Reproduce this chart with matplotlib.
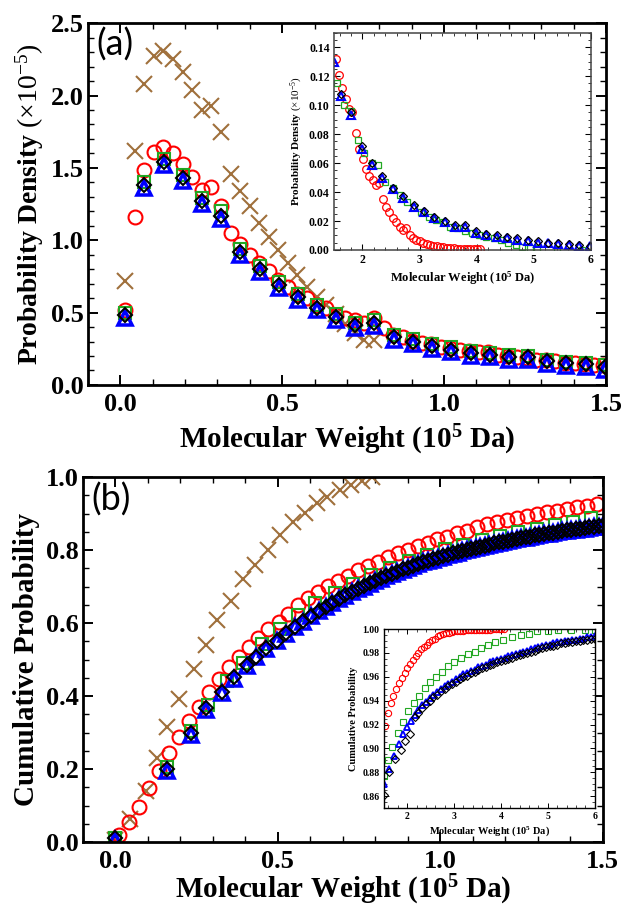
import matplotlib
matplotlib.use("Agg")
import matplotlib.pyplot as plt
from matplotlib.ticker import MultipleLocator, FormatStrFormatter

plt.rcParams["font.family"] = ["Liberation Serif", "DejaVu Serif"]
plt.rcParams["mathtext.fontset"] = "custom"
plt.rcParams["mathtext.rm"] = "Liberation Serif"
plt.rcParams["mathtext.bf"] = "Liberation Serif:bold"
plt.rcParams["mathtext.default"] = "rm"

# ---------------- panel (a): probability density ----------------
x_fine_a = [0.015, 0.045, 0.074, 0.104, 0.133, 0.163, 0.193, 0.222, 0.252, 0.281,
            0.311, 0.341, 0.370, 0.400, 0.429, 0.459, 0.488, 0.518, 0.547, 0.577,
            0.606, 0.636, 0.665, 0.695, 0.724, 0.754, 0.783, 0.813, 0.842, 0.872,
            0.901, 0.931, 0.960, 0.990, 1.019, 1.049, 1.078, 1.108, 1.137, 1.167,
            1.196, 1.226, 1.255, 1.285, 1.314, 1.344, 1.373, 1.403, 1.432, 1.462,
            1.491]
red_a = [0.52, 1.16, 1.485, 1.61, 1.645, 1.60, 1.53, 1.44, 1.35, 1.37,
         1.24, 1.047, 0.977, 0.90, 0.84, 0.79, 0.726, 0.68, 0.63, 0.60,
         0.55, 0.53, 0.48, 0.465, 0.446, 0.43, 0.46, 0.395, 0.344, 0.33,
         0.307, 0.29, 0.28, 0.26, 0.256, 0.24, 0.233, 0.226, 0.228, 0.21,
         0.198, 0.193, 0.186, 0.174, 0.174, 0.163, 0.15, 0.15, 0.144, 0.14,
         0.135]
x_brown_a = x_fine_a[:27]
brown_a = [0.72, 1.62, 2.08, 2.27, 2.31, 2.25, 2.16, 2.04, 1.90, 1.93,
           1.75, 1.46, 1.34, 1.24, 1.12, 1.02, 0.93, 0.84, 0.76, 0.68,
           0.61, 0.55, 0.49, 0.42, 0.36, 0.31, 0.31]

x_coarse_a = [0.015, 0.074, 0.134, 0.193, 0.252, 0.311, 0.371, 0.430, 0.489, 0.548,
              0.608, 0.667, 0.726, 0.785, 0.845, 0.904, 0.963, 1.022, 1.082, 1.141,
              1.200, 1.259, 1.319, 1.378, 1.437, 1.496]
green_a = [0.50, 1.40, 1.56, 1.45, 1.29, 1.20, 0.94, 0.82, 0.71, 0.63,
           0.55, 0.49, 0.43, 0.45, 0.345, 0.315, 0.285, 0.26, 0.235, 0.22,
           0.21, 0.20, 0.175, 0.16, 0.155, 0.135]
blue_a = [0.46, 1.36, 1.52, 1.41, 1.25, 1.15, 0.90, 0.78, 0.67, 0.59,
          0.515, 0.45, 0.395, 0.41, 0.31, 0.28, 0.25, 0.225, 0.20, 0.19,
          0.175, 0.17, 0.145, 0.13, 0.125, 0.105]
black_a = [0.48, 1.38, 1.54, 1.43, 1.27, 1.17, 0.92, 0.80, 0.69, 0.61,
           0.535, 0.47, 0.415, 0.43, 0.33, 0.30, 0.27, 0.245, 0.22, 0.21,
           0.195, 0.19, 0.165, 0.15, 0.145, 0.125]

# inset (a)
x_red_ins = [1.530, 1.589, 1.648, 1.707, 1.766, 1.825, 1.884, 1.943, 2.002, 2.061,
             2.120, 2.179, 2.238, 2.297, 2.356, 2.415, 2.474, 2.533, 2.592, 2.651,
             2.710, 2.769, 2.828, 2.887, 2.946, 3.005, 3.064, 3.123, 3.182, 3.241,
             3.300, 3.359, 3.418, 3.477, 3.536, 3.595, 3.654, 3.713, 3.772, 3.831,
             3.890, 3.949, 4.008, 4.067]
red_ins_a = [0.132, 0.121, 0.112, 0.104, 0.097, 0.095, 0.081, 0.070, 0.063, 0.056,
             0.051, 0.048, 0.045, 0.046, 0.035, 0.030, 0.026, 0.022, 0.019, 0.016,
             0.014, 0.015, 0.010, 0.008, 0.007, 0.006, 0.005, 0.004, 0.0035, 0.003,
             0.0025, 0.002, 0.0018, 0.0015, 0.0013, 0.0011, 0.001, 0.0009, 0.0008, 0.0007,
             0.0006, 0.0005, 0.0004, 0.0004]
x_green_ins_a = [1.56, 1.67, 1.80, 1.92, 2.03, 2.17, 2.28, 2.40, 2.53, 2.66,
                 2.78, 2.90, 3.03, 3.16, 3.28, 3.41, 3.54, 3.66, 3.79, 3.92,
                 4.04, 4.17, 4.30, 4.42, 4.55, 4.68, 4.80, 4.93, 5.05, 5.40,
                 5.85]
green_ins_a = [0.115, 0.100, 0.096, 0.076, 0.067, 0.060, 0.059, 0.047, 0.043, 0.038,
               0.033, 0.030, 0.026, 0.023, 0.021, 0.019, 0.016, 0.015, 0.013, 0.012,
               0.010, 0.009, 0.008, 0.007, 0.005, 0.0035, 0.0023, 0.0015, 0.0012, 0.0005,
               0.0002]
x_blue_ins_a = [1.50, 1.62, 1.80, 1.99, 2.17, 2.35, 2.53, 2.71, 2.90, 3.08,
                3.26, 3.44, 3.62, 3.80, 3.99, 4.17, 4.35, 4.53, 4.71, 4.89,
                5.07, 5.25, 5.43, 5.61, 5.79, 5.98]
blue_ins_a = [0.130, 0.106, 0.093, 0.070, 0.059, 0.050, 0.042, 0.036, 0.030, 0.026,
              0.022, 0.019, 0.016, 0.016, 0.012, 0.010, 0.009, 0.008, 0.007, 0.006,
              0.005, 0.0045, 0.004, 0.0035, 0.003, 0.0025]
x_black_ins_a = x_blue_ins_a[1:]
black_ins_a = [0.108, 0.095, 0.072, 0.060, 0.051, 0.043, 0.037, 0.031, 0.027, 0.023,
               0.020, 0.017, 0.017, 0.013, 0.011, 0.010, 0.009, 0.008, 0.007, 0.006,
               0.005, 0.005, 0.004, 0.0035, 0.003]

# ---------------- panel (b): cumulative probability ----------------
x_red_b = [0.012, 0.043, 0.073, 0.104, 0.134, 0.165, 0.196, 0.226, 0.257, 0.287,
           0.318, 0.349, 0.379, 0.410, 0.440, 0.471, 0.502, 0.532, 0.563, 0.593,
           0.624, 0.655, 0.685, 0.716, 0.746, 0.777, 0.808, 0.838, 0.869, 0.899,
           0.930, 0.961, 0.991, 1.022, 1.052, 1.083, 1.114, 1.144, 1.175, 1.205,
           1.236, 1.267, 1.297, 1.328, 1.358, 1.389, 1.420, 1.450, 1.481]
red_b = [0.02, 0.056, 0.097, 0.148, 0.195, 0.243, 0.288, 0.332, 0.370, 0.412,
         0.448, 0.479, 0.508, 0.535, 0.558, 0.583, 0.604, 0.626, 0.649, 0.668,
         0.686, 0.702, 0.716, 0.730, 0.745, 0.756, 0.767, 0.780, 0.791, 0.801,
         0.810, 0.820, 0.829, 0.837, 0.846, 0.853, 0.862, 0.870, 0.876, 0.882,
         0.887, 0.893, 0.898, 0.903, 0.908, 0.912, 0.917, 0.921, 0.926]
x_brown_b = [0.0, 0.046, 0.095, 0.127, 0.16, 0.194, 0.243, 0.278, 0.311, 0.357,
             0.393, 0.429, 0.47, 0.506, 0.547, 0.583, 0.619, 0.65, 0.69, 0.724,
             0.76, 0.79]
brown_b = [0.005, 0.063, 0.14, 0.23, 0.314, 0.393, 0.473, 0.54, 0.608, 0.661,
           0.722, 0.759, 0.80, 0.841, 0.877, 0.902, 0.928, 0.946, 0.964, 0.978,
           0.99, 1.0]
x_green_b = [0.0, 0.16, 0.234, 0.286, 0.342, 0.393, 0.45, 0.506, 0.563, 0.614,
             0.675, 0.732, 0.788, 0.845, 0.902, 0.958, 1.014, 1.07, 1.127, 1.183,
             1.24, 1.296, 1.353, 1.409, 1.465]
green_b = [0.01, 0.205, 0.305, 0.375, 0.44, 0.49, 0.542, 0.583, 0.622, 0.654,
           0.681, 0.708, 0.732, 0.752, 0.771, 0.786, 0.802, 0.814, 0.827, 0.838,
           0.850, 0.859, 0.868, 0.877, 0.887]
x_band_b = [0.0, 0.16, 0.234, 0.28, 0.327, 0.365, 0.404, 0.434, 0.463, 0.496,
            0.525, 0.552, 0.578, 0.602, 0.625, 0.647, 0.668, 0.688, 0.708, 0.727,
            0.746, 0.764, 0.782, 0.80, 0.817, 0.834, 0.851, 0.868, 0.884, 0.90,
            0.916, 0.932, 0.948, 0.963, 0.978, 0.993, 1.008, 1.023, 1.038, 1.053,
            1.067, 1.081, 1.095, 1.109, 1.123, 1.137, 1.151, 1.165, 1.179, 1.193,
            1.207, 1.221, 1.235, 1.249, 1.263, 1.277, 1.291, 1.305, 1.319, 1.333,
            1.347, 1.361, 1.375, 1.389, 1.403, 1.417, 1.431, 1.445, 1.459, 1.473,
            1.487, 1.501]
black_b = [0.01, 0.20, 0.298, 0.366, 0.412, 0.451, 0.485, 0.508, 0.531, 0.552,
           0.572, 0.590, 0.606, 0.620, 0.633, 0.645, 0.656, 0.666, 0.676, 0.685,
           0.693, 0.701, 0.709, 0.716, 0.723, 0.729, 0.735, 0.741, 0.747, 0.752,
           0.757, 0.762, 0.767, 0.771, 0.775, 0.779, 0.783, 0.787, 0.791, 0.794,
           0.797, 0.800, 0.803, 0.806, 0.809, 0.812, 0.815, 0.818, 0.821, 0.823,
           0.826, 0.828, 0.831, 0.833, 0.835, 0.837, 0.840, 0.842, 0.844, 0.846,
           0.848, 0.850, 0.852, 0.854, 0.855, 0.857, 0.859, 0.860, 0.862, 0.863,
           0.865, 0.866]
blue_b = [0.005, 0.195, 0.293, 0.362, 0.409, 0.448, 0.482, 0.506, 0.529, 0.550,
          0.570, 0.588, 0.604, 0.619, 0.632, 0.644, 0.655, 0.665, 0.675, 0.684,
          0.692, 0.700, 0.708, 0.715, 0.722, 0.728, 0.734, 0.740, 0.746, 0.751,
          0.756, 0.761, 0.766, 0.770, 0.774, 0.778, 0.782, 0.786, 0.790, 0.793,
          0.796, 0.799, 0.802, 0.805, 0.808, 0.811, 0.814, 0.817, 0.820, 0.822,
          0.825, 0.827, 0.830, 0.832, 0.834, 0.836, 0.839, 0.841, 0.843, 0.845,
          0.847, 0.849, 0.851, 0.853, 0.854, 0.856, 0.858, 0.859, 0.861, 0.862,
          0.864, 0.865]

# inset (b)
red_ins_b = [0.919, 0.930, 0.938, 0.944, 0.950, 0.955, 0.959, 0.963, 0.967, 0.971,
             0.974, 0.977, 0.980, 0.983, 0.985, 0.987, 0.989, 0.991, 0.992, 0.994,
             0.995, 0.996, 0.9965, 0.997, 0.9975, 0.998, 0.9983, 0.9985, 0.9987, 0.9989,
             0.999, 0.9991, 0.9992, 0.9993, 0.9994, 0.9995, 0.9995, 0.9996, 0.9996, 0.9997,
             0.9997, 0.9997, 0.9998, 0.9998]
x_green_ins_b = [1.50, 1.59, 1.68, 1.80, 1.91, 2.02, 2.15, 2.26, 2.37, 2.49,
                 2.62, 2.75, 2.88, 3.00, 3.15, 3.29, 3.44, 3.58, 3.73, 3.87,
                 4.05, 4.24, 4.42, 4.60, 4.78, 5.00, 5.22, 5.50, 5.80, 6.00]
green_ins_b = [0.877, 0.890, 0.901, 0.913, 0.922, 0.931, 0.938, 0.944, 0.951, 0.956,
               0.960, 0.964, 0.969, 0.972, 0.976, 0.979, 0.981, 0.984, 0.987, 0.989,
               0.991, 0.993, 0.995, 0.996, 0.998, 0.9986, 0.999, 0.999, 0.999, 0.999]
x_band_ins_b = [1.50, 1.61, 1.72, 1.83, 1.91, 2.00, 2.08, 2.16, 2.24, 2.32,
                2.40, 2.48, 2.56, 2.64, 2.72, 2.80, 2.88, 2.96, 3.04, 3.12,
                3.20, 3.28, 3.36, 3.44, 3.52, 3.60, 3.68, 3.76, 3.84, 3.92,
                4.00, 4.08, 4.16, 4.24, 4.32, 4.40, 4.48, 4.56, 4.64, 4.72,
                4.80, 4.88, 4.96, 5.04, 5.12, 5.20, 5.28, 5.36, 5.44, 5.52,
                5.60, 5.68, 5.76, 5.84, 5.92, 6.00]
blue_ins_b = [0.870, 0.883, 0.894, 0.904, 0.912, 0.918, 0.923, 0.928, 0.932, 0.936,
              0.939, 0.942, 0.945, 0.947, 0.950, 0.952, 0.954, 0.956, 0.958, 0.960,
              0.962, 0.963, 0.965, 0.966, 0.968, 0.969, 0.970, 0.972, 0.973, 0.974,
              0.975, 0.976, 0.977, 0.978, 0.979, 0.980, 0.981, 0.982, 0.983, 0.984,
              0.985, 0.986, 0.987, 0.987, 0.988, 0.989, 0.989, 0.990, 0.990, 0.991,
              0.991, 0.992, 0.992, 0.993, 0.993, 0.994]
x_black_ins_b = [1.51, 1.62, 1.75, 1.86, 1.96, 2.06] + x_band_ins_b[7:]
black_ins_b = [0.861, 0.880, 0.891, 0.899, 0.906, 0.912, 0.926, 0.930, 0.934, 0.937,
               0.940, 0.943, 0.945, 0.948, 0.950, 0.952, 0.954, 0.956, 0.958, 0.960,
               0.961, 0.963, 0.964, 0.966, 0.967, 0.968, 0.970, 0.971, 0.972, 0.973,
               0.974, 0.975, 0.976, 0.977, 0.978, 0.979, 0.980, 0.981, 0.982, 0.983,
               0.984, 0.985, 0.986, 0.986, 0.987, 0.988, 0.988, 0.989, 0.989, 0.990,
               0.990, 0.991, 0.991, 0.992, 0.992]

RED = "#ff0000"
BROWN = "#a0703c"
GREEN = "#22a822"
BLUE = "#0000ff"
BLACK = "#000000"


def style_axes(ax, lw, maj, mnr, fs, xmaj, xmin, ymaj, ymin, yfmt, xfmt, color="black"):
    for s in ax.spines.values():
        s.set_linewidth(lw)
        s.set_color(color)
    ax.xaxis.set_major_locator(MultipleLocator(xmaj))
    ax.xaxis.set_minor_locator(MultipleLocator(xmin))
    ax.yaxis.set_major_locator(MultipleLocator(ymaj))
    ax.yaxis.set_minor_locator(MultipleLocator(ymin))
    ax.yaxis.set_major_formatter(FormatStrFormatter(yfmt))
    ax.xaxis.set_major_formatter(FormatStrFormatter(xfmt))
    ax.tick_params(which="both", direction="in", top=True, right=True)
    ax.tick_params(which="major", length=maj, width=lw * 0.7, labelsize=fs, pad=3)
    ax.tick_params(which="minor", length=mnr, width=lw * 0.5)
    for lab in ax.get_xticklabels() + ax.get_yticklabels():
        lab.set_fontweight("bold")


def draw_set(ax, series, ms, mew):
    # series: list of (x, y, marker, color, size factor)
    for x, y, mk, col, f in series:
        ax.plot(x, y, linestyle="none", marker=mk, ms=ms * f, mfc="none",
                mec=col, mew=mew * (1.7 if mk == "^" else 1.0))


def put_labels(ax, xl, yl, xfs, yfs, xy, yx):
    ax.set_xlabel(xl, fontsize=xfs, fontweight="bold", va="center")
    ax.xaxis.set_label_coords(0.5, xy)
    ax.set_ylabel(yl, fontsize=yfs, fontweight="bold", va="center")
    ax.yaxis.set_label_coords(yx, 0.5)


MW = r"Molecular Weight (10$^{\mathbf{5}}$ Da)"
PD = r"Probability Density $(\times10^{-5})$"

fig = plt.figure(figsize=(6.24, 9.09), dpi=100)

# ---- (a)
ax1 = fig.add_axes([0.141, 0.5765, 0.830, 0.398])
draw_set(ax1, [
    (x_brown_a, brown_a, "x", BROWN, 1.15),
    (x_fine_a, red_a, "o", RED, 1.0),
    (x_coarse_a, green_a, "s", GREEN, 0.85),
    (x_coarse_a, blue_a, "^", BLUE, 1.0),
    (x_coarse_a, black_a, "D", BLACK, 0.75),
], 10, 1.5)
ax1.set_xlim(-0.1, 1.5)
ax1.set_ylim(0, 2.5)
style_axes(ax1, 2.0, 7, 4, 19, 0.5, 0.1, 0.5, 0.1, "%.1f", "%.1f")
ax1.tick_params(axis="x", pad=6)
put_labels(ax1, MW, PD, 21, 20, -0.152, -0.112)
ax1.text(0.017, 0.988, "(a)", transform=ax1.transAxes, ha="left", va="top",
         fontsize=26, family="Lato")

ins1 = fig.add_axes([0.535, 0.725, 0.412, 0.239])
draw_set(ins1, [
    (x_red_ins, red_ins_a, "o", RED, 1.0),
    (x_green_ins_a, green_ins_a, "s", GREEN, 0.9),
    (x_blue_ins_a, blue_ins_a, "^", BLUE, 1.0),
    (x_black_ins_a, black_ins_a, "D", BLACK, 0.8),
], 5.5, 0.9)
ins1.set_xlim(1.5, 6)
ins1.set_ylim(0, 0.15)
style_axes(ins1, 1.1, 4, 2, 8.5, 1, 0.2, 0.02, 0.005, "%.2f", "%d", color="#444444")
put_labels(ins1, MW, PD, 9, 8, -0.129, -0.145)

# ---- (b)
ax2 = fig.add_axes([0.133, 0.0737, 0.833, 0.4015])
draw_set(ax2, [
    (x_brown_b, brown_b, "x", BROWN, 1.15),
    (x_red_b, red_b, "o", RED, 1.0),
    (x_green_b, green_b, "s", GREEN, 0.85),
    (x_band_b, blue_b, "^", BLUE, 1.0),
    (x_band_b, black_b, "D", BLACK, 0.75),
], 10, 1.5)
ax2.set_xlim(-0.1, 1.5)
ax2.set_ylim(0, 1.0)
style_axes(ax2, 2.0, 7, 4, 19, 0.5, 0.1, 0.2, 0.05, "%.1f", "%.1f")
ax2.tick_params(axis="x", pad=6)
put_labels(ax2, MW, "Cumulative Probability", 21, 21, -0.131, -0.108)
ax2.text(0.017, 0.985, "(b)", transform=ax2.transAxes, ha="left", va="top",
         fontsize=26, family="Lato")

ins2 = fig.add_axes([0.615, 0.111, 0.338, 0.197])
draw_set(ins2, [
    (x_red_ins, red_ins_b, "o", RED, 1.0),
    (x_green_ins_b, green_ins_b, "s", GREEN, 0.9),
    (x_band_ins_b, blue_ins_b, "^", BLUE, 1.0),
    (x_black_ins_b, black_ins_b, "D", BLACK, 0.8),
], 4.5, 0.8)
ins2.set_xlim(1.5, 6)
ins2.set_ylim(0.85, 1.0)
style_axes(ins2, 1.0, 3.5, 2, 7, 1, 0.2, 0.02, 0.005, "%.2f", "%d")
put_labels(ins2, MW, "Cumulative Probability", 7.5, 7.5, -0.13, -0.145)

fig.savefig("out.png", dpi=100)
